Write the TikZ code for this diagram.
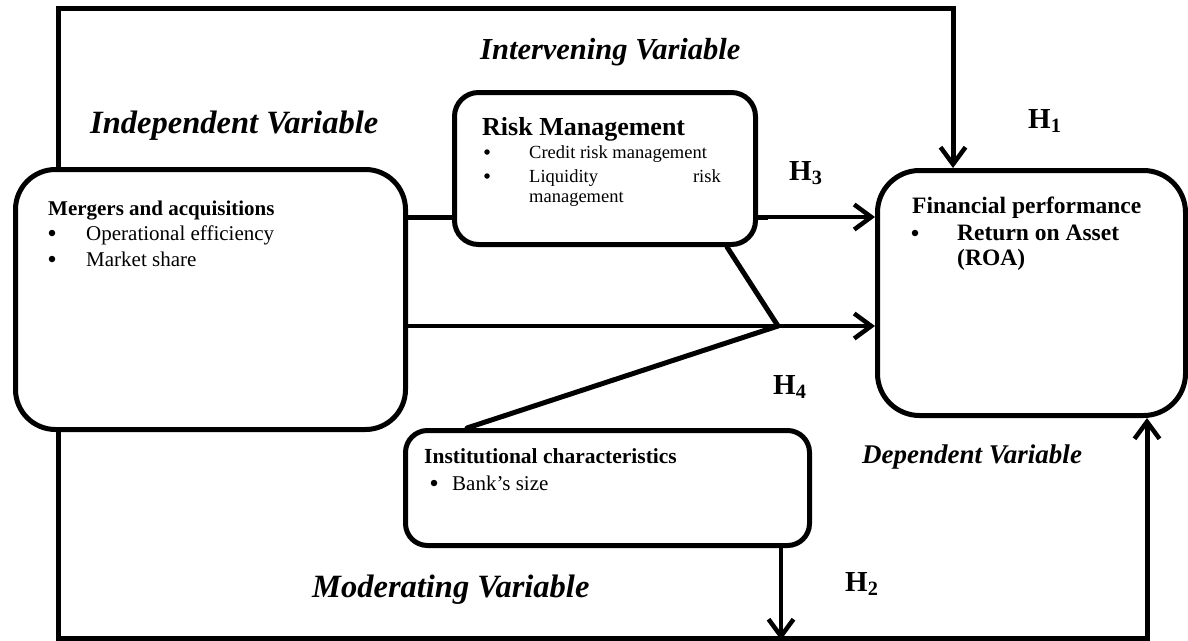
\documentclass[tikz,border=0pt]{standalone}
\usepackage{fontspec}
\setmainfont{Liberation Serif}
\usetikzlibrary{arrows.meta}
\begin{document}
\begin{tikzpicture}[x=1pt,y=-1pt,
  box/.style={draw,line width=5pt,rounded corners=#1,inner sep=0pt,anchor=north west},
  conn/.style={line width=5pt},
  tip/.style={-{Straight Barb[length=17pt,width=25pt,line width=4.5pt]}},
  arr/.style={line width=4pt,tip},
  frame/.style={line width=5pt,line join=miter,tip},
  lbl/.style={inner sep=0pt,anchor=base west},
  dot/.style={circle,fill,inner sep=0pt,minimum size=#1},
  big/.style={lbl,font=\fontsize{32.5}{32.5}\selectfont\bfseries\itshape},
  hyp/.style={lbl,font=\fontsize{29}{29}\selectfont\bfseries},
  body/.style={lbl,font=\fontsize{21}{21}\selectfont}]
\useasboundingbox (0,0) rectangle (1188,640);
\fill[white] (0,0) rectangle (1188,640);

% boxes
\node[box=40pt,minimum width=390pt,minimum height=260pt] (ma) at (13,167) {};
\node[box=24pt,minimum width=301pt,minimum height=152pt] (risk) at (452,90) {};
\node[box=42pt,minimum width=308pt,minimum height=245pt] (fin) at (875,168) {};
\node[box=22pt,minimum width=404pt,minimum height=115pt] (inst) at (403,428) {};

% helper coordinates
\coordinate (tl) at (58.5,8);
\coordinate (tr) at (953,8);
\coordinate (bl) at (58.5,638);
\coordinate (br) at (1147,638);
\coordinate (yr) at (0,217);
\coordinate (j) at (778,326);
\coordinate (xr) at (727,0);
\coordinate (xi) at (467,0);
\coordinate (xh) at (781,0);
\coordinate (xs) at (768,0);

% outer frame
\draw[frame] (ma.north -| tl) -- (tl) -- (tr) -- (tr |- fin.north);
\draw[frame] (ma.south -| bl) -- (bl) -- (br) -- (br |- fin.south);

% connectors
\draw[conn] (ma.east |- yr) -- (risk.west |- yr);
\draw[arr] (risk.east |- yr) -- (fin.west |- yr);
\draw[conn] (risk.east |- yr) -- (xs |- yr);
\draw[arr] (ma.east |- j) -- (fin.west |- j);
\draw[conn,line cap=round] (risk.south -| xr) -- (j);
\draw[conn,line cap=round] (inst.north -| xi) -- (j);
\draw[arr] (inst.south -| xh) -- ([yshift=-2pt]xh |- bl);

% headings
\node[big] (tind) at (90,133) {Independent Variable};
\node[big,font=\fontsize{30.5}{30.5}\selectfont\bfseries\itshape] (tint) at (480,59) {Intervening Variable};
\node[big] (tmod) at (312,597) {Moderating Variable};
\node[big,font=\fontsize{27}{27}\selectfont\bfseries\itshape] (tdep) at (862,463) {Dependent Variable};

% hypotheses
\node[hyp] (h1) at (1028,128) {H\textsubscript{1}};
\node[hyp] (h3) at (789,180) {H\textsubscript{3}};
\node[hyp] (h4) at (773,394) {H\textsubscript{4}};
\node[hyp] (h2) at (845,591) {H\textsubscript{2}};

% merger box text
\node[body,font=\fontsize{21}{21}\selectfont\bfseries] (mat) at (48,215) {Mergers and acquisitions};
\node[dot=6.5pt] (mab1) at (52,233) {};
\node[body] (mai1) at (86,240) {Operational efficiency};
\node[dot=6.5pt] (mab2) at (52,259) {};
\node[body] (mai2) at (86,266) {Market share};

% risk box text
\node[lbl,font=\fontsize{26}{26}\selectfont\bfseries] (rt) at (482,135) {Risk Management};
\node[dot=5.5pt] (rb1) at (487,152) {};
\node[lbl,font=\fontsize{18.5}{18.5}\selectfont] (ri1) at (529,158) {Credit risk management};
\node[dot=5.5pt] (rb2) at (487,176) {};
\node[lbl,font=\fontsize{18.5}{18.5}\selectfont] (ri2) at (529,182) {Liquidity};
\node[lbl,font=\fontsize{18.5}{18.5}\selectfont,anchor=base east] (ri2b) at (721,182) {risk};
\node[lbl,font=\fontsize{18.5}{18.5}\selectfont] (ri2c) at (529,202) {management};

% financial box text
\node[lbl,font=\fontsize{23.5}{23.5}\selectfont\bfseries] (ft) at (912,213) {Financial performance};
\node[dot=6.5pt] (fb1) at (915,233) {};
\node[lbl,font=\fontsize{23.5}{23.5}\selectfont\bfseries] (fi1) at (957,240) {Return on Asset};
\node[lbl,font=\fontsize{23.5}{23.5}\selectfont\bfseries] (fi1b) at (957,265) {(ROA)};

% institutional box text
\node[body,font=\fontsize{21.5}{21.5}\selectfont\bfseries] (it) at (424,463) {Institutional characteristics};
\node[dot=6.5pt] (ib1) at (434,483) {};
\node[body] (ii1) at (452,490) {Bank’s size};
\end{tikzpicture}
\end{document}
